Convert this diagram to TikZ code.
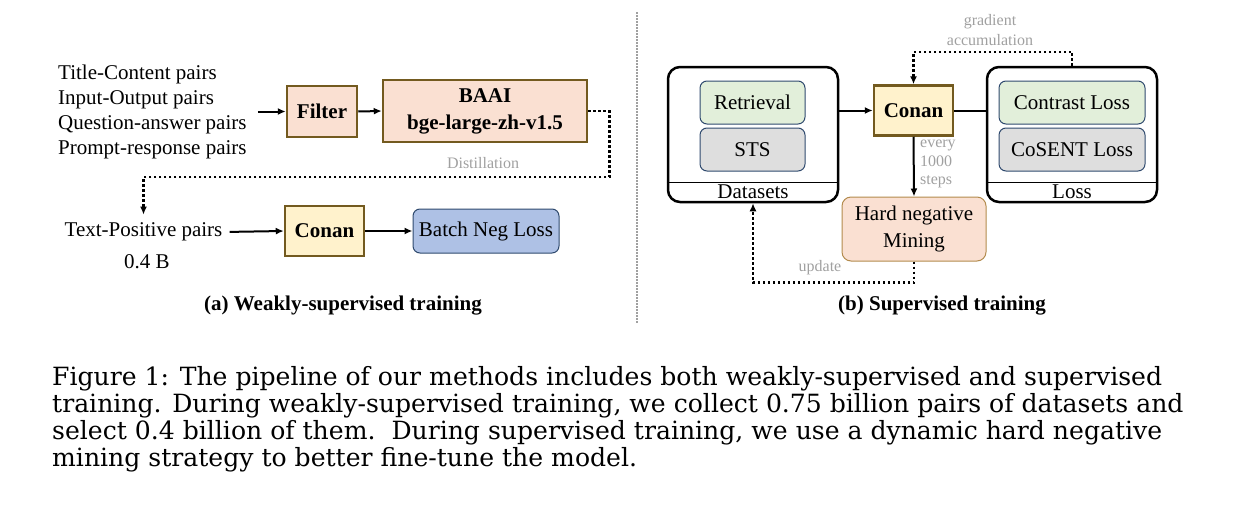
\documentclass[tikz,border=0pt]{standalone}
\usepackage{fontspec}
\setmainfont{Liberation Serif}
\newfontfamily\capfont{DejaVu Serif}
\usetikzlibrary{arrows.meta, positioning, calc}

\definecolor{peach}{HTML}{FAE0D2}
\definecolor{brownedge}{HTML}{735A1F}
\definecolor{cream}{HTML}{FFF2CC}
\definecolor{batchblue}{HTML}{AEC1E5}
\definecolor{navyedge}{HTML}{2F4A6E}
\definecolor{softgreen}{HTML}{E2EFDA}
\definecolor{softgray}{HTML}{DEDEDE}
\definecolor{hardedge}{HTML}{B38B4D}
\definecolor{notegray}{HTML}{A0A0A0}

\begin{document}
\begin{tikzpicture}[
    x=1pt, y=-1pt,
    txt/.style={font=\fontsize{21}{25}\selectfont, inner sep=1pt},
    note/.style={font=\fontsize{16}{19}\selectfont, text=notegray, inner sep=1pt, align=center},
    model/.style={draw=brownedge, line width=2.5pt, align=center,
                  font=\fontsize{21}{27}\selectfont\bfseries},
    teacher/.style={model, fill=peach},
    conan/.style={model, fill=cream, minimum width=79pt, minimum height=50pt},
    item/.style={draw=navyedge, line width=1pt, rounded corners=7pt,
                 font=\fontsize{21}{25}\selectfont, minimum height=43pt},
    group/.style={draw, line width=2.5pt, rounded corners=12pt,
                  minimum width=170pt, minimum height=135pt},
    flow/.style={-{Latex[length=8pt, width=7pt]}, line width=2pt},
    dep/.style={-{Latex[length=8pt, width=7pt]}, line width=2.5pt,
                dash pattern=on 2.5pt off 2.5pt},
    ttl/.style={font=\fontsize{21}{25}\selectfont\bfseries},
]
    \useasboundingbox (0,0) rectangle (1260,506);

    % --- (a) weakly-supervised ---
    \node[txt, anchor=west, align=left] (pairs) at (57,111.5)
        {Title-Content pairs\\Input-Output pairs\\Question-answer pairs\\Prompt-response pairs};
    \node[teacher, minimum width=70pt, minimum height=51pt] (filter) at (322,111.5) {Filter};
    \node[teacher, minimum width=204pt, minimum height=62pt] (baai) at (485,111) {BAAI\\bge-large-zh-v1.5};

    \node[txt] (tp)   at (143.5,232) {Text-Positive pairs};
    \node[txt] (size) at (147,262) {0.4 B};
    \node[conan] (conanA) at (324.5,231) {Conan};
    \node[item, fill=batchblue, minimum width=146pt, minimum height=44pt] (batch) at (486,231) {Batch Neg Loss};

    \draw[flow, shorten <=10pt] (pairs.east) -- (filter.west);
    \draw[flow] (filter.east) -- (baai.west);
    \draw[flow, shorten <=6pt] (tp.east) -- (conanA.west);
    \draw[flow] (conanA.east) -- (batch.west);

    \coordinate (dlane) at (0,177);
    \draw[dep, shorten >=7pt] (baai.east) -- ++(21,0) |- (tp.north |- dlane) -- (tp.north);
    \node[note] (distil) at (483,163) {Distillation};

    \node[ttl] (titleA) at (343,306) {(a) Weakly-supervised training};

    % --- separator ---
    \draw[notegray, line width=2pt, dash pattern=on 1.5pt off 1.5pt] (637,12) -- (637,323);

    % --- (b) supervised ---
    \node[group] (data) at (753,134.5) {};
    \node[item, fill=softgreen, minimum width=105pt] (retr) at (752.5,102.5) {Retrieval};
    \node[item, fill=softgray,  minimum width=105pt] (sts)  at (752.5,149.5) {STS};
    \draw[line width=1pt] (data.west |- 0,182) -- (data.east |- 0,182);
    \node[txt] (datalbl) at (753,192) {Datasets};

    \node[conan] (conanB) at (913.5,110.5) {Conan};

    \node[group] (loss) at (1072,134.5) {};
    \node[item, fill=softgreen, minimum width=146pt] (contrast) at (1072,102.5) {Contrast Loss};
    \node[item, fill=softgray,  minimum width=146pt] (cosent)   at (1072,149.5) {CoSENT Loss};
    \draw[line width=1pt] (loss.west |- 0,182) -- (loss.east |- 0,182);
    \node[txt] (losslbl) at (1072,192) {Loss};

    \node[item, draw=hardedge, fill=peach, minimum width=144pt, minimum height=64pt,
          rounded corners=9pt, align=center, font=\fontsize{21}{27}\selectfont] (hard) at (914,229)
          {Hard negative\\Mining};

    \draw[flow] (data.east |- conanB.west) -- (conanB.west);
    \draw[line width=2pt] (conanB.east) -- (loss.west |- conanB.east);
    \draw[flow] (conanB.south) -- (hard.north);
    \draw[dep] (loss.north) -- ++(0,-14) -| (conanB.north);
    \draw[dep] (hard.south) -- ++(0,21) -| (data.south);

    \node[note, font=\fontsize{16}{20}\selectfont] (grad) at (990,30) {gradient\\accumulation};
    \node[note, anchor=west, align=left, font=\fontsize{16}{18.5}\selectfont] (every) at (919,164) {every\\1000\\steps};
    \node[note] (upd) at (820,268) {update};

    \node[ttl] (titleB) at (942,306) {(b) Supervised training};

    % --- caption ---
    \node[anchor=north west, align=left, inner sep=0pt,
          font=\capfont\fontsize{25.1}{27}\selectfont] (cap) at (52,366)
        {Figure 1: The pipeline of our methods includes both weakly-supervised and supervised\\
         training. During weakly-supervised training, we collect 0.75 billion pairs of datasets and\\
         select 0.4 billion of them.\ \ During supervised training, we use a dynamic hard negative\\
         mining strategy to better fine-tune the model.};
\end{tikzpicture}
\end{document}
